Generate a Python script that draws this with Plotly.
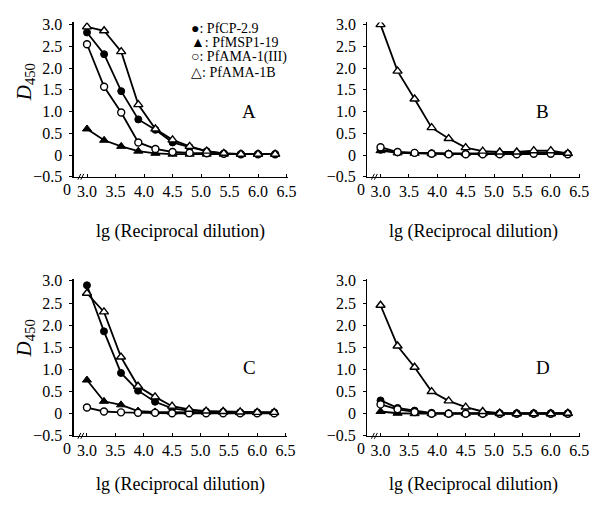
import plotly.graph_objects as go

# ---------------- data ----------------
x_lg = [3.0, 3.3, 3.6, 3.9, 4.2, 4.5, 4.8, 5.1, 5.4, 5.7, 6.0, 6.3]
series_names = ["PfCP-2.9", "PfMSP1-19", "PfAMA-1(III)", "PfAMA-1B"]
legend_glyphs = ["●", "▲", "○", "△"]

A_cp = [2.82, 2.32, 1.47, 0.82, 0.58, 0.29, 0.18, 0.09, 0.03, 0.02, 0.02, 0.02]
A_msp = [0.60, 0.34, 0.20, 0.09, 0.04, 0.02, 0.02, 0.02, 0.02, 0.02, 0.02, 0.02]
A_ama3 = [2.55, 1.57, 0.98, 0.29, 0.14, 0.07, 0.05, 0.04, 0.03, 0.02, 0.02, 0.02]
A_amab = [2.95, 2.86, 2.38, 1.16, 0.60, 0.35, 0.20, 0.09, 0.04, 0.02, 0.02, 0.02]

B_cp = [0.12, 0.06, 0.05, 0.04, 0.03, 0.03, 0.03, 0.03, 0.04, 0.05, 0.05, 0.03]
B_msp = [0.10, 0.05, 0.04, 0.03, 0.03, 0.03, 0.03, 0.03, 0.04, 0.06, 0.06, 0.03]
B_ama3 = [0.18, 0.07, 0.05, 0.03, 0.02, 0.02, 0.02, 0.02, 0.02, 0.03, 0.03, 0.02]
B_amab = [3.00, 1.93, 1.29, 0.63, 0.38, 0.17, 0.09, 0.07, 0.07, 0.10, 0.10, 0.04]

C_cp = [2.90, 1.86, 0.92, 0.52, 0.27, 0.12, 0.07, 0.05, 0.04, 0.03, 0.03, 0.03]
C_msp = [0.76, 0.28, 0.20, 0.06, 0.04, 0.03, 0.03, 0.03, 0.03, 0.02, 0.02, 0.02]
C_ama3 = [0.14, 0.05, 0.03, 0.02, 0.02, 0.01, 0.01, 0.01, 0.01, 0.01, 0.01, 0.01]
C_amab = [2.72, 2.30, 1.28, 0.62, 0.38, 0.17, 0.10, 0.06, 0.05, 0.04, 0.03, 0.03]

D_cp = [0.30, 0.13, 0.07, 0.02, 0.01, 0.01, 0.01, 0.01, 0.01, 0.01, 0.01, 0.01]
D_msp = [0.05, 0.01, 0.00, 0.00, 0.00, 0.00, 0.00, 0.00, 0.00, 0.00, 0.00, 0.00]
D_ama3 = [0.21, 0.10, 0.04, 0.00, 0.00, 0.00, 0.00, 0.00, 0.00, 0.00, 0.00, 0.00]
D_amab = [2.45, 1.53, 1.05, 0.50, 0.29, 0.15, 0.05, 0.01, 0.00, 0.00, 0.00, 0.01]

panel_labels = ["A", "B", "C", "D"]
panels = [
    [A_cp, A_msp, A_ama3, A_amab],
    [B_cp, B_msp, B_ama3, B_amab],
    [C_cp, C_msp, C_ama3, C_amab],
    [D_cp, D_msp, D_ama3, D_amab],
]

x_tickvals = [3.0, 3.5, 4.0, 4.5, 5.0, 5.5, 6.0, 6.5]
x_ticktext = ["3.0", "3.5", "4.0", "4.5", "5.0", "5.5", "6.0", "6.5"]
y_tickvals = [-0.5, 0, 0.5, 1.0, 1.5, 2.0, 2.5, 3.0]
y_ticktext = ["\u22120.5", "0", "0.5", "1.0", "1.5", "2.0", "2.5", "3.0"]
x_title = "lg (Reciprocal dilution)"
y_title = "<i>D</i><sub>450</sub>"

# ---------------- layout helpers ----------------
W, H = 609, 505
def px(x):
    return x / W
def py(y):
    return 1 - y / H

FONT = "Liberation Serif, Times New Roman, serif"
BLACK = "#000000"

# panel boxes in pixels: (x0, x1, ytop, ybottom, title offset)
boxes = [(75, 292, 17, 176, 56), (373, 589, 17, 176, 56),
         (75, 291, 281, 443, 50), (373, 589, 281, 443, 50)]

marker_styles = [
    dict(symbol="circle", size=7, color=BLACK, line=dict(color=BLACK, width=1)),
    dict(symbol="triangle-up", size=8, color=BLACK, line=dict(color=BLACK, width=1)),
    dict(symbol="circle", size=7, color="white", line=dict(color=BLACK, width=1.4)),
    dict(symbol="triangle-up", size=8, color="white", line=dict(color=BLACK, width=1.4)),
]

fig = go.Figure()
layout = dict(
    width=W, height=H,
    margin=dict(l=0, r=0, t=0, b=0),
    paper_bgcolor="white", plot_bgcolor="white",
    showlegend=False,
    font=dict(family=FONT, color=BLACK, size=16),
)
annotations = []
shapes = []

for i, (vals, lab, box) in enumerate(zip(panels, panel_labels, boxes)):
    k = "" if i == 0 else str(i + 1)
    x0, x1, yt, yb, toff = box
    for j, v in enumerate(vals):
        fig.add_trace(go.Scatter(
            x=x_lg, y=v, mode="lines+markers", name=series_names[j],
            line=dict(color=BLACK, width=1.8),
            marker=marker_styles[j],
            xaxis="x" + k, yaxis="y" + k,
        ))
    layout["xaxis" + k] = dict(
        domain=[px(x0), px(x1)], range=[2.77, 6.52], anchor="y" + k,
        showline=True, linecolor=BLACK, linewidth=1.4,
        ticks="inside", ticklen=3, tickcolor=BLACK, tickwidth=1,
        tickvals=x_tickvals, ticktext=x_ticktext,
        tickfont=dict(family=FONT, size=16, color=BLACK),
        showgrid=False, zeroline=False, fixedrange=True,
    )
    layout["yaxis" + k] = dict(
        domain=[py(yb), py(yt)], range=[-0.5, 3.05], anchor="x" + k,
        showline=True, linecolor=BLACK, linewidth=1.4,
        ticks="outside", ticklen=3, tickcolor=BLACK, tickwidth=1,
        tickvals=y_tickvals, ticktext=y_ticktext,
        tickfont=dict(family=FONT, size=16, color=BLACK),
        ticklabelstandoff=4,
        showgrid=False, zeroline=False, fixedrange=True,
    )
    # "0" label left of the axis break
    annotations.append(dict(x=px(x0 - 7), y=py(yb + 13), xref="paper", yref="paper",
                            text="0", showarrow=False, xanchor="center", yanchor="middle",
                            font=dict(family=FONT, size=16, color=BLACK)))
    # axis break mark
    for dx in (0, 3):
        shapes.append(dict(type="line", xref="paper", yref="paper",
                           x0=px(x0 + 4 + dx), y0=py(yb + 3), x1=px(x0 + 7 + dx), y1=py(yb - 3),
                           line=dict(color=BLACK, width=1)))
    # x title
    annotations.append(dict(x=px((x0 + x1) / 2), y=py(yb + toff), xref="paper", yref="paper",
                            text=x_title, showarrow=False, xanchor="center", yanchor="middle",
                            font=dict(family=FONT, size=18, color=BLACK)))
    # panel letter
    annotations.append(dict(x=px(x0 + 178), y=py(yt + 92), xref="paper", yref="paper",
                            text=lab, showarrow=False, xanchor="center", yanchor="middle",
                            font=dict(family=FONT, size=19, color=BLACK)))
    # y title on left panels
    if i in (0, 2):
        annotations.append(dict(x=px(25), y=py(yt + 62), xref="paper", yref="paper",
                                text=y_title, showarrow=False, textangle=-90,
                                xanchor="center", yanchor="middle",
                                font=dict(family=FONT, size=21, color=BLACK)))

# legend in panel A
leg_rows = [23, 38, 53, 69]
for g, name, yy in zip(legend_glyphs, series_names, leg_rows):
    annotations.append(dict(x=px(192), y=py(yy), xref="paper", yref="paper",
                            text=g + ": " + name, showarrow=False,
                            xanchor="left", yanchor="middle",
                            font=dict(family=FONT, size=14, color=BLACK)))

layout["annotations"] = annotations
layout["shapes"] = shapes
fig.update_layout(**layout)
fig.write_html("out.html",
               config={"displayModeBar": False, "staticPlot": True},
               post_script="document.body.style.margin='0px';document.body.style.padding='0px';")
